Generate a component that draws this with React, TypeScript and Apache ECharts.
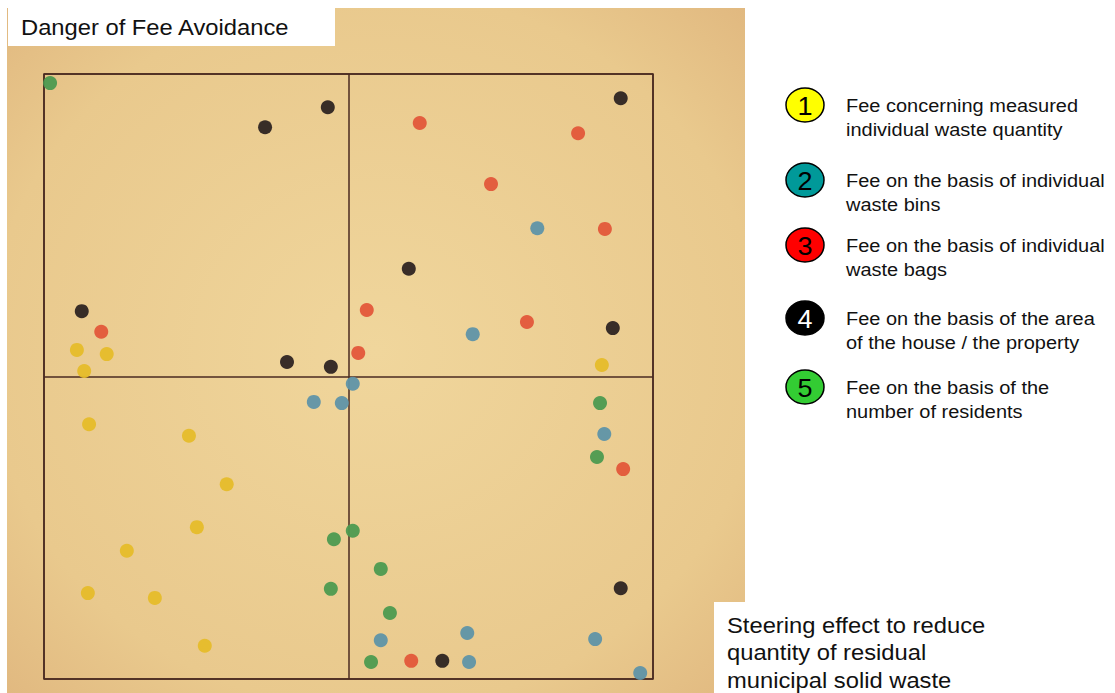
import React, { useEffect, useRef } from "react";
import * as echarts from "echarts";

// Dots on the poster, axis units 0..10 (5 = quadrant boundary)
// x: steering effect to reduce residual waste, y: danger of fee avoidance
const seriesNames = [
  "Fee concerning measured individual waste quantity",
  "Fee on the basis of individual waste bins",
  "Fee on the basis of individual waste bags",
  "Fee on the basis of the area of the house / the property",
  "Fee on the basis of the number of residents",
];
const legendLines = [
  ["Fee concerning measured", "individual waste quantity"],
  ["Fee on the basis of individual", "waste bins"],
  ["Fee on the basis of individual", "waste bags"],
  ["Fee on the basis of the area", "of the house / the property"],
  ["Fee on the basis of the", "number of residents"],
];
const dotColors = ["#e6bc2a", "#5f94a8", "#e3573a", "#2e2422", "#4d9a50"];
const legendColors = ["#ffff00", "#009999", "#ff0000", "#000000", "#33cc33"];

const yellowDots = [
  [0.54, 5.44], [1.03, 5.37], [0.66, 5.09], [9.16, 5.19], [0.74, 4.21],
  [2.38, 4.02], [3.0, 3.22], [2.51, 2.51], [1.36, 2.12], [0.72, 1.42],
  [1.82, 1.34], [2.64, 0.55],
];
const tealDots = [
  [8.1, 7.45], [7.04, 5.7], [5.07, 4.88], [4.43, 4.58], [4.89, 4.56],
  [9.2, 4.05], [5.53, 0.64], [6.95, 0.76], [6.98, 0.28], [9.05, 0.66],
  [9.79, 0.1],
];
const redDots = [
  [6.17, 9.19], [8.77, 9.02], [7.34, 8.18], [9.21, 7.44], [5.3, 6.1],
  [7.93, 5.9], [5.16, 5.39], [0.94, 5.74], [9.51, 3.47], [6.03, 0.3],
];
const blackDots = [
  [4.66, 9.45], [3.63, 9.12], [9.47, 9.6], [5.99, 6.78], [9.34, 5.8],
  [0.62, 6.08], [3.99, 5.24], [4.71, 5.16], [9.47, 1.5], [6.54, 0.3],
];
const greenDots = [
  [0.1, 9.85], [9.13, 4.56], [9.08, 3.67], [5.07, 2.45], [4.76, 2.31],
  [4.71, 1.49], [5.53, 1.82], [5.68, 1.09], [5.37, 0.28],
];
const allDots = [yellowDots, tealDots, redDots, blackDots, greenDots];

const titleText = "Danger of Fee Avoidance";
const axisText = ["Steering effect to reduce", "quantity of residual", "municipal solid waste"];

export default function App() {
  const ref = useRef<HTMLDivElement>(null);
  useEffect(() => {
    if (!ref.current) return;
    const chart = echarts.init(ref.current, null, { renderer: "svg" });
    const font = "'Liberation Sans', Arial, sans-serif";
    const lineColor = "#4a2a20";
    const stretch = 1.08;
    const graphic: any[] = [
      {
        type: "rect",
        z: -10,
        silent: true,
        shape: { x: 7, y: 8, width: 738, height: 685 },
        style: {
          fill: {
            type: "radial",
            x: 0.5,
            y: 0.5,
            r: 0.75,
            colorStops: [
              { offset: 0, color: "#f0d69c" },
              { offset: 0.7, color: "#e9c98d" },
              { offset: 1, color: "#dfb57d" },
            ],
          },
        },
      },
      {
        type: "rect",
        z: 100,
        shape: { x: 8, y: 8, width: 327, height: 38 },
        style: { fill: "#ffffff" },
      },
      {
        type: "text",
        z: 101,
        x: 21,
        y: 27,
        scaleX: stretch,
        style: {
          text: titleText,
          font: `22px ${font}`,
          fill: "#111",
          verticalAlign: "middle",
        },
      },
      {
        type: "rect",
        z: 100,
        shape: { x: 714, y: 602, width: 401, height: 91 },
        style: { fill: "#ffffff" },
      },
    ];
    axisText.forEach((t, i) => {
      graphic.push({
        type: "text",
        z: 101,
        x: 727,
        y: 625 + i * 27.5,
        scaleX: stretch,
        style: { text: t, font: `22px ${font}`, fill: "#111", verticalAlign: "middle" },
      });
    });
    const legendY = [105, 180, 245, 318, 387];
    legendLines.forEach((lines, i) => {
      const cy = legendY[i];
      graphic.push({
        type: "ellipse",
        z: 50,
        shape: { cx: 805, cy, rx: 19, ry: 17 },
        style: { fill: legendColors[i], stroke: "#000", lineWidth: 1.5 },
      });
      graphic.push({
        type: "text",
        z: 51,
        x: 805,
        y: cy + 1,
        scaleX: stretch,
        style: {
          text: String(i + 1),
          font: `25px ${font}`,
          fill: i === 3 ? "#ffffff" : "#000000",
          align: "center",
          verticalAlign: "middle",
        },
      });
      lines.forEach((l, j) => {
        graphic.push({
          type: "text",
          z: 51,
          x: 846,
          y: cy + 1 + j * 24,
          scaleX: stretch,
          style: { text: l, font: `18.5px ${font}`, fill: "#111", verticalAlign: "middle" },
        });
      });
    });

    chart.setOption({
      animation: false,
      backgroundColor: "#ffffff",
      grid: {
        left: 44,
        top: 74,
        width: 609,
        height: 605,
        show: true,
        borderColor: lineColor,
        borderWidth: 1.5,
        backgroundColor: "transparent",
      },
      xAxis: {
        type: "value",
        min: 0,
        max: 10,
        interval: 5,
        axisLine: { show: false },
        axisTick: { show: false },
        axisLabel: { show: false },
        splitLine: { show: true, lineStyle: { color: lineColor, width: 1.5 } },
      },
      yAxis: {
        type: "value",
        min: 0,
        max: 10,
        interval: 5,
        axisLine: { show: false },
        axisTick: { show: false },
        axisLabel: { show: false },
        splitLine: { show: true, lineStyle: { color: lineColor, width: 1.5 } },
      },
      series: allDots.map((d, i) => ({
        type: "scatter",
        name: seriesNames[i],
        data: d,
        symbolSize: 14,
        itemStyle: { color: dotColors[i], opacity: 0.95 },
        z: 5,
      })),
      graphic,
    });
    return () => chart.dispose();
  }, []);
  return (
    <div
      ref={ref}
      style={{ position: "fixed", left: 0, top: 0, width: 1115, height: 693 }}
    />
  );
}
